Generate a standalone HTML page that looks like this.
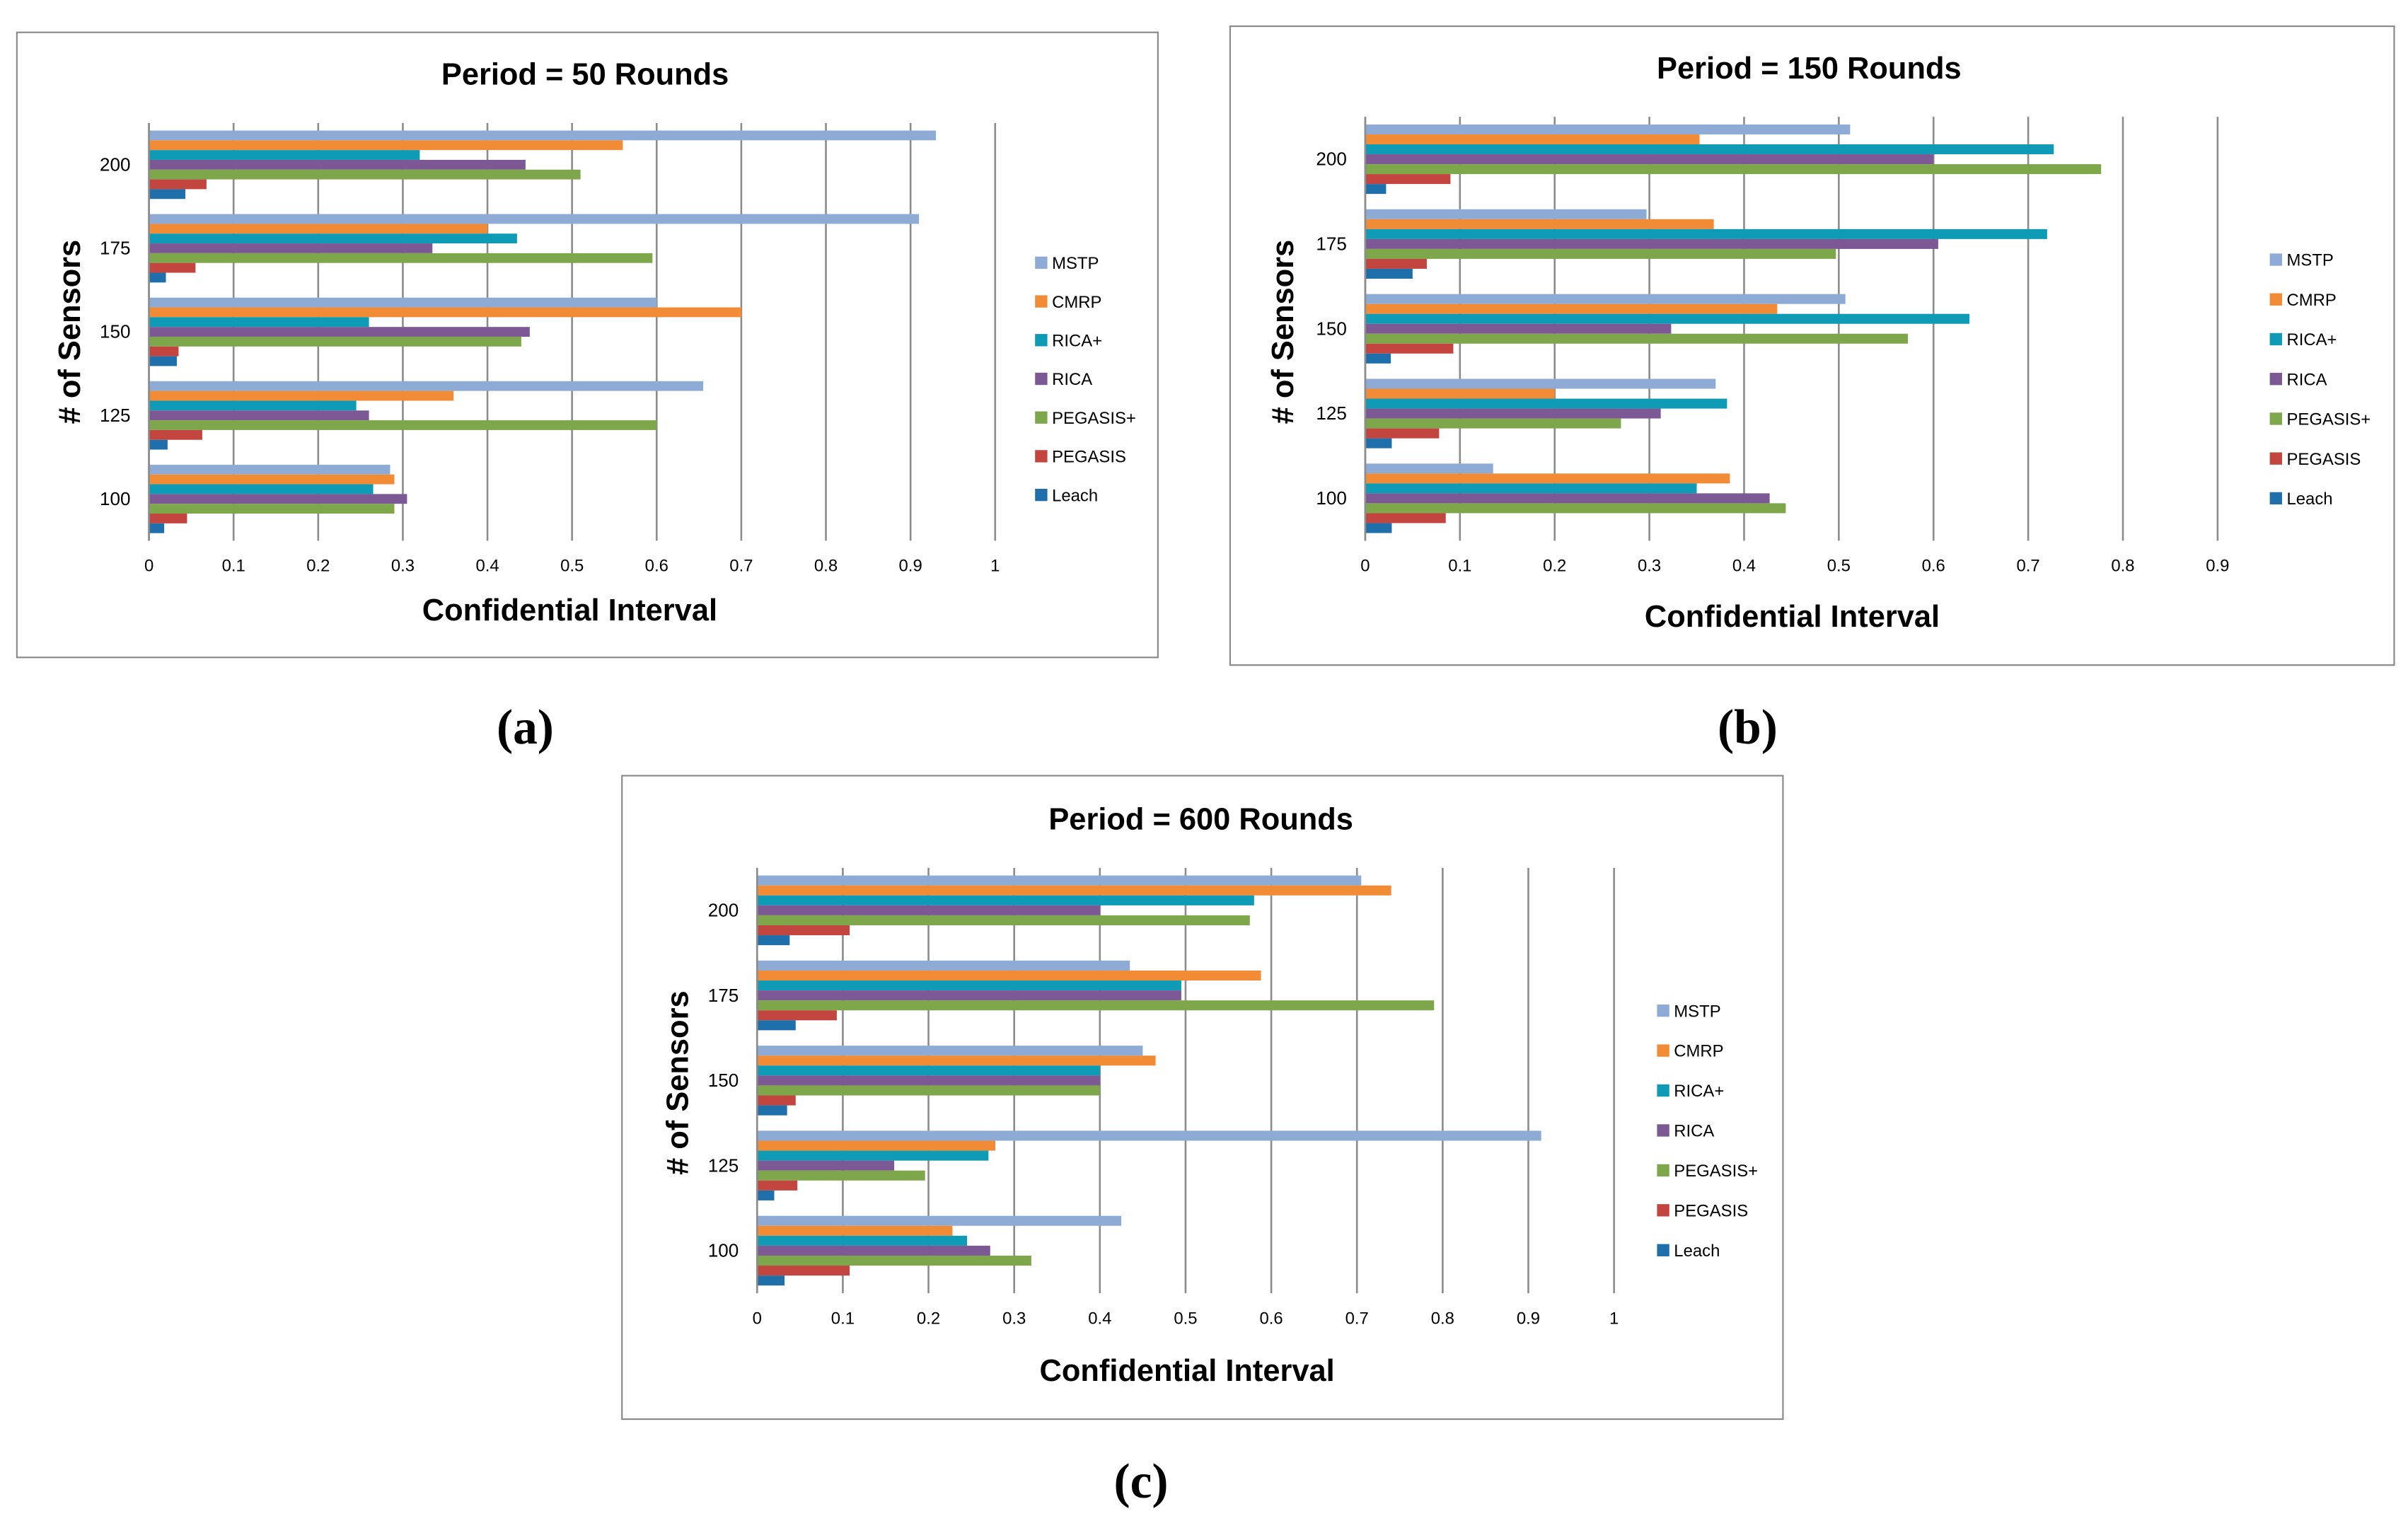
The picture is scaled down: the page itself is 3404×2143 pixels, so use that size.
<!DOCTYPE html>
<html><head><meta charset="utf-8"><style>
html,body{margin:0;padding:0;background:#fff}
svg{display:block}
text{font-family:"Liberation Sans",sans-serif}
</style></head><body>
<svg id="fig" width="3404" height="2143" viewBox="0 0 1568 987" xmlns="http://www.w3.org/2000/svg">
<rect width="1568" height="987" fill="#fff"/>
</svg>
<script>
const seriesNames = ["MSTP","CMRP","RICA+","RICA","PEGASIS+","PEGASIS","Leach"];
const seriesColors = ["#8eabd5","#f28b35","#0f9ab5","#7c5994","#7ea64a","#c3453f","#1f6fab"];
const categories = ["200","175","150","125","100"];
const valuesA = [
 [0.93,0.56,0.32,0.445,0.51,0.068,0.043],
 [0.91,0.40,0.435,0.335,0.595,0.055,0.02],
 [0.60,0.70,0.26,0.45,0.44,0.035,0.033],
 [0.655,0.36,0.245,0.26,0.60,0.063,0.022],
 [0.285,0.29,0.265,0.305,0.29,0.045,0.018]];
const valuesB = [
 [0.512,0.353,0.727,0.60,0.777,0.09,0.022],
 [0.297,0.368,0.72,0.605,0.497,0.065,0.05],
 [0.507,0.435,0.638,0.323,0.573,0.093,0.027],
 [0.37,0.20,0.382,0.312,0.27,0.078,0.028],
 [0.135,0.385,0.35,0.427,0.444,0.085,0.028]];
const valuesC = [
 [0.705,0.74,0.58,0.40,0.575,0.108,0.038],
 [0.435,0.588,0.495,0.495,0.79,0.093,0.045],
 [0.45,0.465,0.40,0.40,0.40,0.045,0.035],
 [0.915,0.278,0.27,0.16,0.196,0.047,0.02],
 [0.425,0.228,0.245,0.272,0.32,0.108,0.032]];
const ticksA = ["0","0.1","0.2","0.3","0.4","0.5","0.6","0.7","0.8","0.9","1"];
const ticksB = ["0","0.1","0.2","0.3","0.4","0.5","0.6","0.7","0.8","0.9"];
const ticksC = ["0","0.1","0.2","0.3","0.4","0.5","0.6","0.7","0.8","0.9","1"];

const NS="http://www.w3.org/2000/svg";
const svg=document.getElementById('fig');
function mk(tag,attrs,parent,txt){const e=document.createElementNS(NS,tag);for(const k in attrs)e.setAttribute(k,attrs[k]);if(txt!==undefined)e.textContent=txt;(parent||svg).appendChild(e);return e;}

function chart(cfg){
  const g=mk('g',{});
  
  
  const fr=mk('rect',{x:cfg.fx,y:cfg.fy,width:cfg.fw,height:cfg.fh,fill:'#fff',stroke:'#8a8a8a','stroke-width':1},g);
  
  
  const t=mk('text',{x:cfg.tx,y:cfg.ty,'font-size':20,'font-weight':'bold','text-anchor':'middle',fill:'#000'},g,cfg.title);
  
  
  const xs=v=>cfg.x0+v*cfg.unit;
  cfg.ticks.forEach((lab,i)=>{
    const v=i/10;
    const ln=mk('line',{x1:xs(v),x2:xs(v),y1:cfg.top,y2:cfg.bottom,stroke:'#8c8c8c','stroke-width':1.2},g);
    
    
    const tl=mk('text',{x:xs(v),y:cfg.bottom+20,'font-size':11,'text-anchor':'middle',fill:'#000'},g,lab);
    
    
  });
  const band=(cfg.bottom-cfg.top)/categories.length;
  const bh=band*0.117;
  categories.forEach((c,ci)=>{
    const gy=cfg.top+ci*band;
    const start=gy+(band-7*bh)/2;
    cfg.values[ci].forEach((v,si)=>{
      const r=mk('rect',{x:cfg.x0,y:start+si*bh,width:Math.max(0,xs(v)-cfg.x0),height:bh,fill:seriesColors[si]},g);
      
      
    });
    const cl=mk('text',{x:cfg.x0-12,y:gy+band/2+4,'font-size':12,'text-anchor':'end',fill:'#000'},g,c);
    
    
  });
  const ax=mk('line',{x1:cfg.x0,x2:cfg.x0,y1:cfg.top,y2:cfg.bottom,stroke:'#8c8c8c','stroke-width':1.2},g);
  
  
  const xt=mk('text',{x:cfg.xtx,y:cfg.xty,'font-size':20,'font-weight':'bold','text-anchor':'middle',fill:'#000'},g,'Confidential Interval');
  
  
  const yt=mk('text',{x:0,y:0,'font-size':20,'font-weight':'bold','text-anchor':'middle',fill:'#000',transform:`translate(${cfg.ytx},${cfg.yty}) rotate(-90)`},g,'# of Sensors');
  
  
  seriesNames.forEach((n,si)=>{
    const ly=cfg.ly+si*cfg.lstep;
    const lg=mk('g',{},g);
    
    
    mk('rect',{x:cfg.lx,y:ly-8,width:8,height:8,fill:seriesColors[si]},lg);
    mk('text',{x:cfg.lx+11,y:ly,'font-size':11,fill:'#000'},lg,n);
  });
  const pl=mk('text',{x:cfg.px,y:cfg.py,'font-size':32,'text-anchor':'middle',fill:'#000',style:'font-family:"Liberation Serif",serif;font-weight:bold'},g,cfg.panel);
  
  
}

chart({name:'chart-a',fx:11,fy:21,fw:743,fh:407,title:'Period = 50 Rounds',tx:381,ty:55,
  ticks:ticksA,values:valuesA,x0:97,unit:551,top:80,bottom:352,xtx:371,xty:404,ytx:52,yty:216,
  lx:674,ly:175,lstep:25.2,panel:'(a)',px:342,py:484});
chart({name:'chart-b',fx:801,fy:17,fw:758,fh:416,title:'Period = 150 Rounds',tx:1178,ty:51,
  ticks:ticksB,values:valuesB,x0:889,unit:616.7,top:76,bottom:352,xtx:1167,xty:408,ytx:842,yty:216,
  lx:1478,ly:173,lstep:25.9,panel:'(b)',px:1138,py:484});
chart({name:'chart-c',fx:405,fy:505,fw:756,fh:419,title:'Period = 600 Rounds',tx:782,ty:540,
  ticks:ticksC,values:valuesC,x0:493,unit:558,top:565,bottom:842,xtx:773,xty:899,ytx:448,yty:705,
  lx:1079,ly:662,lstep:26,panel:'(c)',px:743,py:975});
</script>
</body></html>
